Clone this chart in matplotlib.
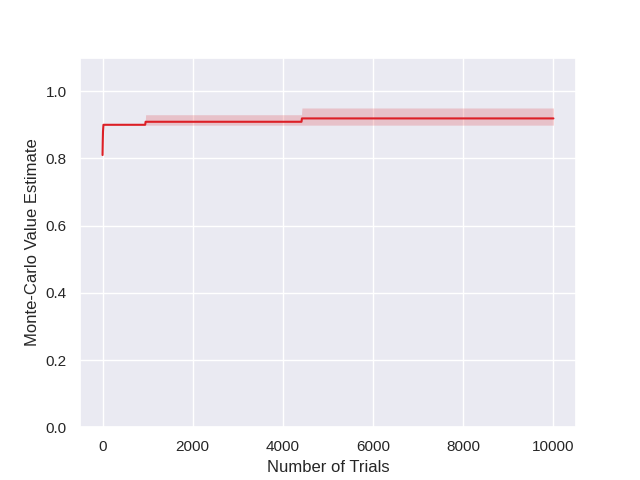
import matplotlib
matplotlib.use("Agg")
import matplotlib.pyplot as plt
import seaborn as sns

# points along the running estimate: (trial number, mean estimate, lower CI, upper CI)
trials = [0, 5, 10, 20, 945, 955, 4412, 4422, 10000]
estimate = [0.81, 0.85, 0.88, 0.90, 0.90, 0.909, 0.909, 0.919, 0.919]
ci_low = [0.81, 0.85, 0.88, 0.90, 0.90, 0.899, 0.899, 0.899, 0.899]
ci_high = [0.81, 0.85, 0.88, 0.90, 0.90, 0.930, 0.930, 0.950, 0.950]

sns.set_theme(style="darkgrid")
plt.rcParams["font.family"] = ["Liberation Sans", "DejaVu Sans"]

fig, ax = plt.subplots(figsize=(6.4, 4.8), dpi=100)
color = "#dc1f26"
ax.fill_between(trials, ci_low, ci_high, color=color, alpha=0.2, linewidth=0)
ax.plot(trials, estimate, color=color, linewidth=1.5)

ax.set_ylim(0, 1.1)
ax.set_yticks([0.0, 0.2, 0.4, 0.6, 0.8, 1.0])
ax.set_xlabel("Number of Trials")
ax.set_ylabel("Monte-Carlo Value Estimate")

fig.savefig("out.png", dpi=100)
